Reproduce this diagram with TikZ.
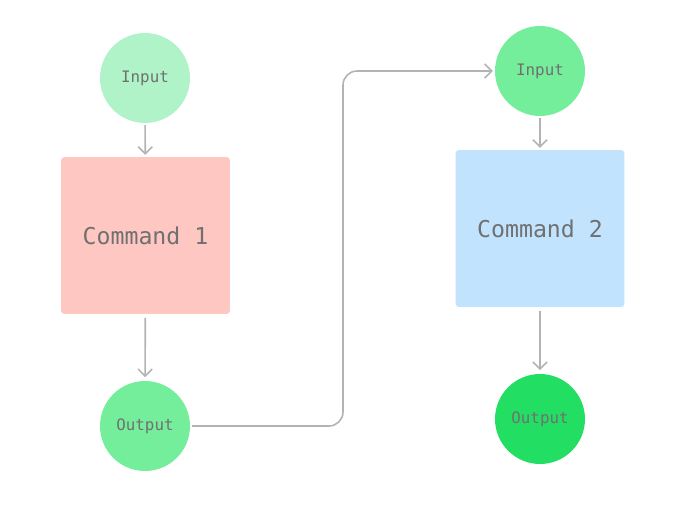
\documentclass[tikz,border=0pt]{standalone}
\usepackage{fontspec}
\setmonofont{DejaVu Sans Mono}
\usetikzlibrary{positioning}
\usetikzlibrary{arrows.meta}
\definecolor{txtgray}{HTML}{707070}
\definecolor{linegray}{HTML}{B3B3B3}
\definecolor{palegreen}{HTML}{B0F3C9}
\definecolor{midgreen}{HTML}{75EE9C}
\definecolor{deepgreen}{HTML}{22DF63}
\definecolor{palered}{HTML}{FFC7C2}
\definecolor{paleblue}{HTML}{C2E3FD}
\tikzset{>={Straight Barb[length=4pt,width=8pt]}}
\tikzset{io/.style={circle, minimum size=1.8cm, inner sep=0pt, font=\ttfamily\fontsize{9}{10}\selectfont, text=txtgray}}
\tikzset{cmd/.style={rounded corners=2pt, minimum width=3.38cm, minimum height=3.14cm, inner sep=0pt, font=\ttfamily\fontsize{13.2}{15}\selectfont, text=txtgray}}
\tikzset{flow/.style={->, draw=linegray, line width=0.9pt}}

\begin{document}
\begin{tikzpicture}[x=0.02cm, y=0.02cm]
\useasboundingbox (0,0) rectangle (682,-518);

\node[io, fill=palegreen] (in1) at (145,-78) {Input};
\node[cmd, fill=palered] (cmd1) at (145.5,-235.5) {Command 1};
\node[io, fill=midgreen] (out1) at (145,-426) {Output};

\node[io, fill=midgreen] (in2) at (540,-71) {Input};
\node[cmd, fill=paleblue] (cmd2) at (540,-228.5) {Command 2};
\node[io, fill=deepgreen] (out2) at (540,-419) {Output};

\coordinate (bend) at (343,-426);

\draw[flow, shorten <=1pt, shorten >=1pt] (in1) -- (cmd1);
\draw[flow, shorten <=2pt, shorten >=2pt] (cmd1) -- (out1);
\draw[flow, shorten <=1pt, shorten >=1pt] (in2) -- (cmd2);
\draw[flow, shorten <=2pt, shorten >=2pt] (cmd2) -- (out2);
\draw[flow, rounded corners=8pt, shorten <=1pt, shorten >=1pt] (out1) -- (bend) |- (in2);
\end{tikzpicture}
\end{document}
